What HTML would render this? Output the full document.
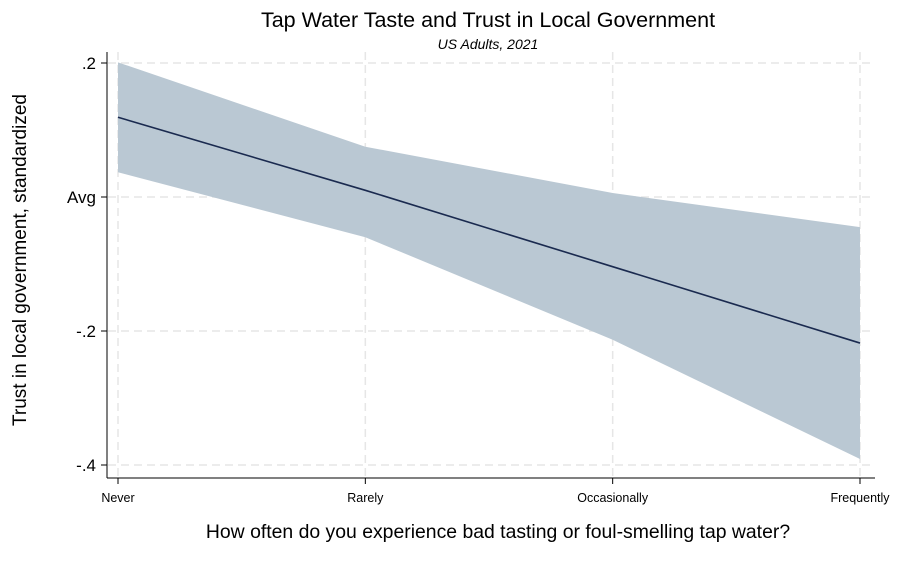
<!DOCTYPE html>
<html><head><meta charset="utf-8"><style>
body{margin:0;background:#fff;}
svg{display:block;font-family:"Liberation Sans",Arial,sans-serif;}
</style></head><body>
<svg id="chart" width="900" height="562">
<text x="488" y="27" text-anchor="middle" font-size="21.5" fill="#000">Tap Water Taste and Trust in Local Government</text>
<text x="488" y="49" text-anchor="middle" font-size="14" font-style="italic" fill="#000">US Adults, 2021</text>
<text transform="translate(26,260) rotate(-90)" text-anchor="middle" font-size="19" fill="#000">Trust in local government, standardized</text>
<text x="498" y="538" text-anchor="middle" font-size="19.4" fill="#000">How often do you experience bad tasting or foul-smelling tap water?</text>
<g id="grid"></g><g id="series"></g><g id="axes"></g>
</svg>
<script>
const categories=["Never","Rarely","Occasionally","Frequently"];
const meanValues=[0.119,0.010,-0.104,-0.218];
const upperValues=[0.201,0.075,0.006,-0.045];
const lowerValues=[0.037,-0.060,-0.213,-0.391];
const yTicks=[0.2,0,-0.2,-0.4];
const yTickLabels=[".2","Avg","-.2","-.4"];
const NS="http://www.w3.org/2000/svg";
function x(i){return 118+i*(860-118)/(categories.length-1);}
function y(v){return 197-v*670;}
function mk(tag,attrs,parent){const e=document.createElementNS(NS,tag);for(const k in attrs)e.setAttribute(k,attrs[k]);parent.appendChild(e);return e;}
const grid=document.getElementById('grid'),series=document.getElementById('series'),axes=document.getElementById('axes');
yTicks.forEach((t,i)=>{
 const g=mk('line',{x1:108,x2:875,y1:y(t),y2:y(t),stroke:'#e6e6e6','stroke-width':1.5,'stroke-dasharray':'8,5'},grid);
 
 
 const tk=mk('line',{x1:101,x2:107,y1:y(t),y2:y(t),stroke:'#000','stroke-width':1},axes);
 
 
 const tx=mk('text',{x:96,y:y(t)+6,'text-anchor':'end','font-size':17,fill:'#000'},axes);
 tx.textContent=yTickLabels[i];
 
 
});
categories.forEach((c,i)=>{
 const g=mk('line',{x1:x(i),x2:x(i),y1:52,y2:477,stroke:'#e6e6e6','stroke-width':1.5,'stroke-dasharray':'8,5'},grid);
 
 
 const tk=mk('line',{x1:x(i),x2:x(i),y1:478,y2:484,stroke:'#000','stroke-width':1},axes);
 
 
 const tx=mk('text',{x:x(i),y:502,'text-anchor':'middle','font-size':12.5,fill:'#000'},axes);
 tx.textContent=c;
 
 
});
let pts=upperValues.map((v,i)=>x(i)+','+y(v));
for(let i=lowerValues.length-1;i>=0;i--)pts.push(x(i)+','+y(lowerValues[i]));
const band=mk('polygon',{points:pts.join(' '),fill:'#bac8d3'},series);


const line=mk('polyline',{points:meanValues.map((v,i)=>x(i)+','+y(v)).join(' '),fill:'none',stroke:'#1a2a4f','stroke-width':1.6},series);


const ya=mk('line',{x1:107,x2:107,y1:52,y2:478,stroke:'#000','stroke-width':1},axes);


const xa=mk('line',{x1:107,x2:875,y1:478,y2:478,stroke:'#000','stroke-width':1},axes);


</script>
</body></html>
